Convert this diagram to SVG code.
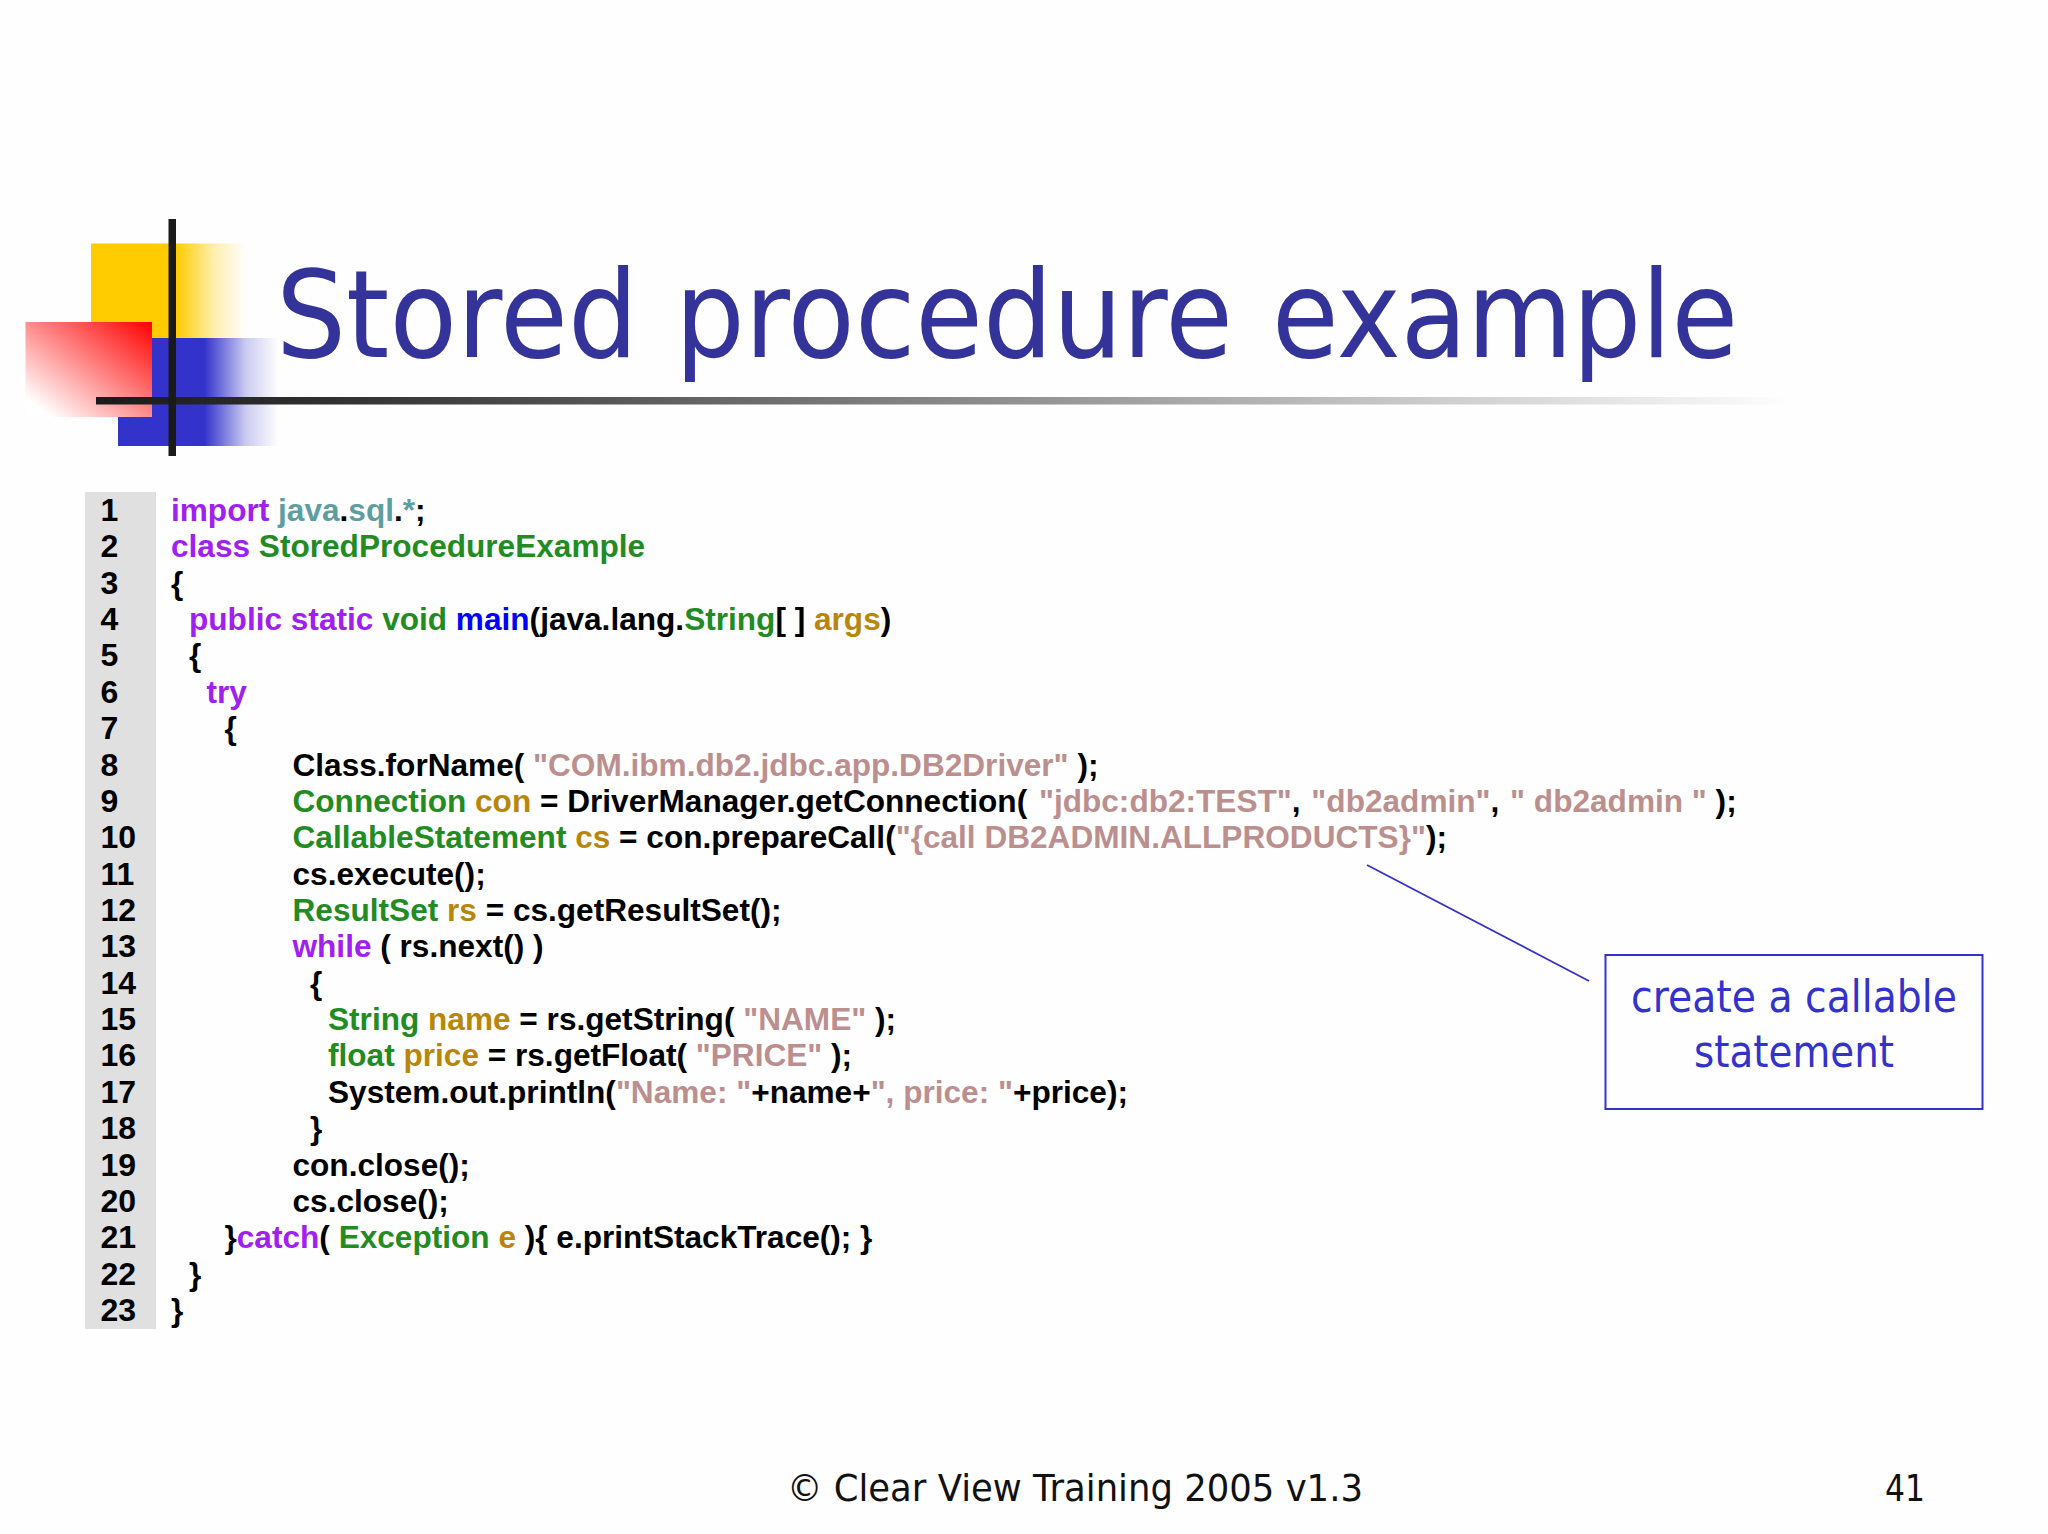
<svg xmlns="http://www.w3.org/2000/svg" width="2048" height="1534" viewBox="0 0 2048 1534">
<style>
text{white-space:pre}
.c{font-family:"Liberation Sans",Arial,sans-serif;font-size:31.600px;font-weight:bold;fill:#000}
.k{fill:#a020f0}.t{fill:#228b22}.v{fill:#b8860b}.s{fill:#bc8f8f}.p{fill:#5f9ea0}.f{fill:#0000ff}
.n{font-family:"Liberation Sans",Arial,sans-serif;font-size:32px;font-weight:bold;fill:#000}
.h{font-family:"DejaVu Sans",sans-serif}
</style>
<defs>
<linearGradient id="gy" x1="0" x2="1" y1="0" y2="0"><stop offset="0" stop-color="#ffcc00"/><stop offset=".55" stop-color="#ffcc00"/><stop offset=".8" stop-color="#ffcc00" stop-opacity=".3"/><stop offset="1" stop-color="#ffcc00" stop-opacity="0"/></linearGradient>
<linearGradient id="gb" x1="0" x2="1" y1="0" y2="0"><stop offset="0" stop-color="#3333cc"/><stop offset=".54" stop-color="#3333cc"/><stop offset=".8" stop-color="#3333cc" stop-opacity=".25"/><stop offset="1" stop-color="#3333cc" stop-opacity="0"/></linearGradient>
<linearGradient id="gr" x1="1" x2="0" y1="0" y2="1"><stop offset="0" stop-color="#ff0000"/><stop offset=".9" stop-color="#fff"/><stop offset="1" stop-color="#fff"/></linearGradient>
<linearGradient id="gl" x1="0" x2="1" y1="0" y2="0"><stop offset="0" stop-color="#1a1a1a"/><stop offset=".15" stop-color="#333"/><stop offset="1" stop-color="#fff"/></linearGradient>
</defs>
<rect width="2048" height="1534" fill="#fefefe"/>
<g id="decoration">
<rect x="91" y="243.500" width="155" height="95" fill="url(#gy)"/>
<rect x="118" y="338" width="160" height="108" fill="url(#gb)"/>
<rect x="25.500" y="322" width="126.500" height="95" fill="url(#gr)"/>
<rect x="96" y="397" width="1700" height="7.500" fill="url(#gl)"/>
<rect x="168.500" y="219" width="7.500" height="237" fill="#1a1a1a"/>
</g>
<text id="title" class="h" y="357" font-size="122" fill="#333399"><tspan x="276" textLength="362" lengthAdjust="spacingAndGlyphs">Stored</tspan> <tspan x="675" textLength="558" lengthAdjust="spacingAndGlyphs">procedure</tspan> <tspan x="1272" textLength="466" lengthAdjust="spacingAndGlyphs">example</tspan></text>
<g id="code">
<rect x="85" y="492" width="71" height="837" fill="#e0e0e0"/>
<g class="n">
<text x="100.500" y="521">1</text><text x="100.500" y="557.400">2</text><text x="100.500" y="593.700">3</text><text x="100.500" y="630.100">4</text><text x="100.500" y="666.400">5</text><text x="100.500" y="702.800">6</text><text x="100.500" y="739.200">7</text><text x="100.500" y="775.500">8</text><text x="100.500" y="811.900">9</text><text x="100.500" y="848.200">10</text><text x="100.500" y="884.600">11</text><text x="100.500" y="920.900">12</text><text x="100.500" y="957.300">13</text><text x="100.500" y="993.700">14</text><text x="100.500" y="1030">15</text><text x="100.500" y="1066.400">16</text><text x="100.500" y="1102.700">17</text><text x="100.500" y="1139.100">18</text><text x="100.500" y="1175.500">19</text><text x="100.500" y="1211.800">20</text><text x="100.500" y="1248.200">21</text><text x="100.500" y="1284.500">22</text><text x="100.500" y="1320.900">23</text>
</g>
<g class="c">
<text x="171" y="521"><tspan class="k">import </tspan><tspan class="p">java</tspan>.<tspan class="p">sql</tspan>.<tspan class="p">*</tspan>;</text>
<text x="171" y="557.400"><tspan class="k">class </tspan><tspan class="t">StoredProcedureExample</tspan></text>
<text x="171" y="593.700">{</text>
<text x="189" y="630.100"><tspan class="k">public static </tspan><tspan class="t">void </tspan><tspan class="f">main</tspan>(java.lang.<tspan class="t">String</tspan>[ ] <tspan class="v">args</tspan>)</text>
<text x="189" y="666.400">{</text>
<text x="206.500" y="702.800"><tspan class="k">try</tspan></text>
<text x="224.500" y="739.200">{</text>
<text x="292.500" y="775.500">Class.forName( <tspan class="s">"COM.ibm.db2.jdbc.app.DB2Driver"</tspan> );</text>
<text x="292.500" y="811.900"><tspan class="t">Connection </tspan><tspan class="v">con</tspan> = DriverManager.getConnection( <tspan class="s" dx="3">"jdbc:db2:TEST"</tspan>, <tspan class="s" dx="2">"db2admin"</tspan>, <tspan class="s" dx="2">" db2admin "</tspan> );</text>
<text x="292.500" y="848.200"><tspan class="t">CallableStatement </tspan><tspan class="v">cs</tspan> = con.prepareCall(<tspan class="s">"{call DB2ADMIN.ALLPRODUCTS}"</tspan>);</text>
<text x="292.500" y="884.600">cs.execute();</text>
<text x="292.500" y="920.900"><tspan class="t">ResultSet </tspan><tspan class="v">rs</tspan> = cs.getResultSet();</text>
<text x="292.500" y="957.300"><tspan class="k">while</tspan> ( rs.next() )</text>
<text x="310" y="993.700">{</text>
<text x="328" y="1030"><tspan class="t">String </tspan><tspan class="v">name</tspan> = rs.getString( <tspan class="s">"NAME"</tspan> );</text>
<text x="328" y="1066.400"><tspan class="t">float </tspan><tspan class="v">price</tspan> = rs.getFloat( <tspan class="s">"PRICE"</tspan> );</text>
<text x="328" y="1102.700">System.out.println(<tspan class="s">"Name: "</tspan>+name+<tspan class="s">", price: "</tspan>+price);</text>
<text x="310" y="1139.100">}</text>
<text x="292.500" y="1175.500">con.close();</text>
<text x="292.500" y="1211.800">cs.close();</text>
<text x="224.500" y="1248.200">}<tspan class="k">catch</tspan>( <tspan class="t">Exception </tspan><tspan class="v">e</tspan> ){ e.printStackTrace(); }</text>
<text x="189" y="1284.500">}</text>
<text x="171" y="1320.900">}</text>
</g>
</g>
<g id="connectors"><line x1="1367" y1="865" x2="1589" y2="981" stroke="#3333cc" stroke-width="1.800"/></g>
<g id="callout">
<rect x="1605.500" y="955" width="377" height="154" fill="none" stroke="#3333cc" stroke-width="2"/>
<text class="h" x="1794" y="1012" font-size="44" fill="#3333cc" text-anchor="middle" textLength="326" lengthAdjust="spacingAndGlyphs">create a callable</text>
<text class="h" x="1794" y="1067" font-size="44" fill="#3333cc" text-anchor="middle" textLength="200" lengthAdjust="spacingAndGlyphs">statement</text>
</g>
<g id="footer">
<text class="h" x="787" y="1501" font-size="38" fill="#111" textLength="576" lengthAdjust="spacingAndGlyphs">© Clear View Training 2005 v1.3</text>
<text class="h" x="1885" y="1501" font-size="38" fill="#111" textLength="40" lengthAdjust="spacingAndGlyphs">41</text>
</g>
</svg>
